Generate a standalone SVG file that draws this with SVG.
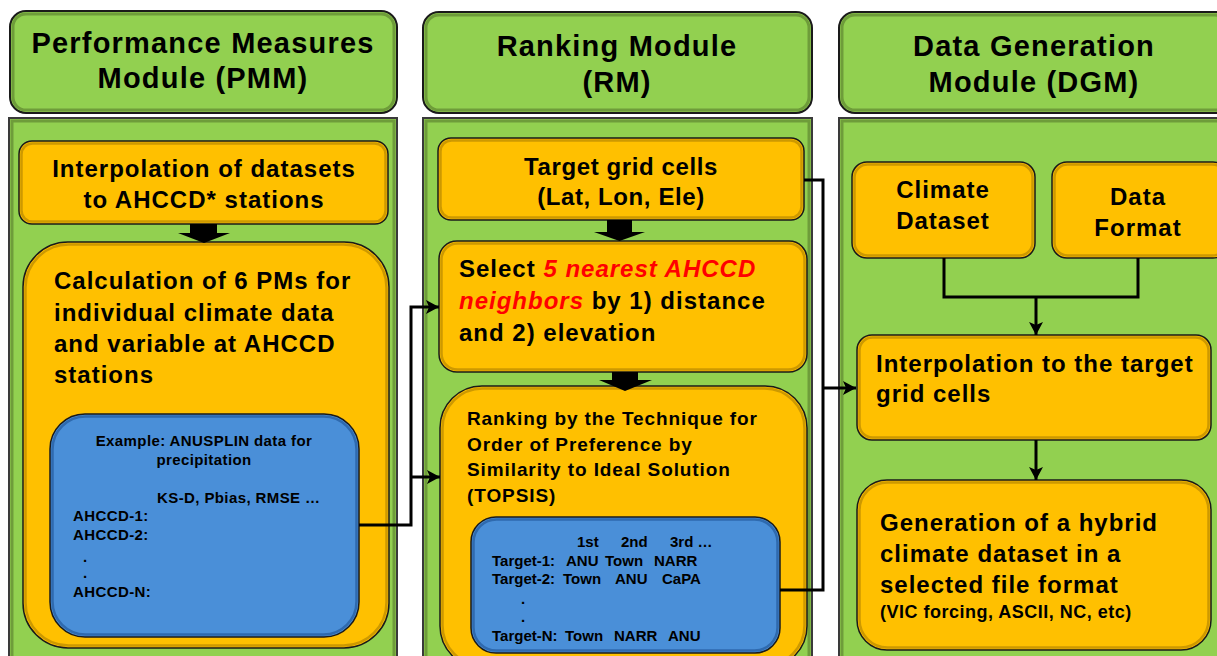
<svg xmlns="http://www.w3.org/2000/svg" width="1217" height="656" viewBox="0 0 1217 656">
<style>
.hdr{fill:#92D050;stroke:#1a1a1a;stroke-width:2}
.hin{fill:none;stroke:#6E9C3A;stroke-width:3}
.body{fill:#92D050;stroke:#3a3a3a;stroke-width:2}
.bin{fill:none;stroke:#6E9C3A;stroke-width:3}
.ob{fill:#FFC000;stroke:#1a1a1a;stroke-width:1.5}
.oin{fill:none;stroke:#C08F00;stroke-width:2.5;opacity:.8}
.bb{fill:#4A8FD8;stroke:#1a1a1a;stroke-width:1.5}
.bbin{fill:none;stroke:#2F6AAE;stroke-width:2.5}
.t{font-family:"Liberation Sans",Arial,sans-serif;font-weight:bold;fill:#000}
.h{font-size:29px;letter-spacing:1.2px}
.m{font-size:24px;letter-spacing:1px}
.s{font-size:19px;letter-spacing:0.9px}
.x{font-size:15px;letter-spacing:0.4px}
.c{text-anchor:middle}
.red{fill:#FF0000;font-style:italic}
.conn{fill:none;stroke:#000;stroke-width:3}
.blk{fill:#000}
</style>
<defs>
<marker id="ah" markerUnits="userSpaceOnUse" markerWidth="14" markerHeight="14" refX="13" refY="7" orient="auto">
<path d="M0,0 L13,7 L0,14 L3,7 Z" fill="#000"/>
</marker>
</defs>
<rect width="1217" height="656" fill="#fff"/>

<!-- Panels -->
<g id="pmm-header">
<rect class="hdr" x="10" y="11" width="387" height="102" rx="16"/>
<rect class="hin" x="13" y="14" width="381" height="96" rx="13"/>
<text class="t h c" x="203" y="53">Performance Measures</text>
<text class="t h c" x="203" y="88">Module (PMM)</text>
</g>
<g id="rm-header">
<rect class="hdr" x="423" y="12" width="389" height="101" rx="16"/>
<rect class="hin" x="426" y="15" width="383" height="95" rx="13"/>
<text class="t h c" x="617" y="56">Ranking Module</text>
<text class="t h c" x="617" y="92">(RM)</text>
</g>
<g id="dgm-header">
<rect class="hdr" x="839" y="12" width="392" height="101" rx="16"/>
<rect class="hin" x="842" y="15" width="386" height="95" rx="13"/>
<text class="t h c" x="1034" y="56">Data Generation</text>
<text class="t h c" x="1034" y="92">Module (DGM)</text>
</g>

<g id="pmm-body">
<rect class="body" x="9" y="118" width="388" height="550"/>
<rect class="bin" x="12" y="121" width="382" height="550"/>
</g>
<g id="rm-body">
<rect class="body" x="423" y="118" width="389" height="550"/>
<rect class="bin" x="426" y="121" width="383" height="550"/>
</g>
<g id="dgm-body">
<rect class="body" x="839" y="118" width="392" height="550"/>
<rect class="bin" x="842" y="121" width="386" height="550"/>
</g>

<!-- PMM nodes -->
<g id="pmm-interp">
<rect class="ob" x="19" y="141" width="369" height="83" rx="13"/>
<rect class="oin" x="21.5" y="143.5" width="364" height="78" rx="11"/>
<text class="t m c" x="204" y="177">Interpolation of datasets</text>
<text class="t m c" x="204" y="208">to AHCCD* stations</text>
</g>
<g id="pmm-calc">
<rect class="ob" x="23" y="242" width="366" height="406" rx="45"/>
<rect class="oin" x="25.5" y="244.5" width="361" height="401" rx="43"/>
<text class="t m" x="54" y="289">Calculation of 6 PMs for</text>
<text class="t m" x="54" y="321">individual climate data</text>
<text class="t m" x="54" y="352">and variable at AHCCD</text>
<text class="t m" x="54" y="383">stations</text>
</g>
<g id="pmm-example">
<rect class="bb" x="50" y="414" width="309" height="223" rx="35"/>
<rect class="bbin" x="52.5" y="416.5" width="304" height="218" rx="33"/>
<text class="t x c" x="204" y="446">Example: ANUSPLIN data for</text>
<text class="t x c" x="204" y="465">precipitation</text>
<text class="t x" x="157" y="503">KS-D, Pbias, RMSE …</text>
<text class="t x" x="73" y="521">AHCCD-1:</text>
<text class="t x" x="73" y="540">AHCCD-2:</text>
<text class="t x" x="83" y="562">.</text>
<text class="t x" x="83" y="578">.</text>
<text class="t x" x="73" y="597">AHCCD-N:</text>
</g>

<!-- RM nodes -->
<g id="rm-target">
<rect class="ob" x="438" y="138" width="366" height="82" rx="13"/>
<rect class="oin" x="440.5" y="140.5" width="361" height="77" rx="11"/>
<text class="t m c" x="621" y="175" style="letter-spacing:0.6px">Target grid cells</text>
<text class="t m c" x="621" y="205" style="letter-spacing:0.6px">(Lat, Lon, Ele)</text>
</g>
<g id="rm-select">
<rect class="ob" x="439" y="241" width="368" height="131" rx="18"/>
<rect class="oin" x="441.5" y="243.5" width="363" height="126" rx="16"/>
<text class="t m" x="459" y="277">Select <tspan class="red">5 nearest AHCCD</tspan></text>
<text class="t m" x="459" y="309"><tspan class="red">neighbors</tspan> by 1) distance</text>
<text class="t m" x="459" y="341">and 2) elevation</text>
</g>
<g id="rm-topsis">
<rect class="ob" x="440" y="386" width="367" height="282" rx="42"/>
<rect class="oin" x="442.5" y="388.5" width="362" height="277" rx="40"/>
<text class="t s" x="467" y="425">Ranking by the Technique for</text>
<text class="t s" x="467" y="450.5">Order of Preference by</text>
<text class="t s" x="467" y="476">Similarity to Ideal Solution</text>
<text class="t s" x="467" y="501.5">(TOPSIS)</text>
</g>
<g id="rm-example">
<rect class="bb" x="471" y="517" width="309" height="136" rx="25"/>
<rect class="bbin" x="473.5" y="519.5" width="304" height="131" rx="23"/>
<g class="t x" style="letter-spacing:0">
<text x="577" y="547">1st</text><text x="621" y="547">2nd</text><text x="670" y="547">3rd …</text>
<text x="492" y="566">Target-1:</text><text x="566" y="566">ANU</text><text x="605" y="566">Town</text><text x="654" y="566">NARR</text>
<text x="492" y="584">Target-2:</text><text x="563" y="584">Town</text><text x="615" y="584">ANU</text><text x="662" y="584">CaPA</text>
<text x="521" y="604">.</text>
<text x="521" y="622">.</text>
<text x="492" y="641">Target-N:</text><text x="565" y="641">Town</text><text x="614" y="641">NARR</text><text x="668" y="641">ANU</text>
</g>
</g>

<!-- DGM nodes -->
<g id="dgm-climate">
<rect class="ob" x="852" y="162" width="183" height="96" rx="15"/>
<rect class="oin" x="854.5" y="164.5" width="178" height="91" rx="13"/>
<text class="t m c" x="943" y="198">Climate</text>
<text class="t m c" x="943" y="229">Dataset</text>
</g>
<g id="dgm-format">
<rect class="ob" x="1052" y="162" width="176" height="96" rx="15"/>
<rect class="oin" x="1054.5" y="164.5" width="171" height="91" rx="13"/>
<text class="t m c" x="1138" y="205">Data</text>
<text class="t m c" x="1138" y="236">Format</text>
</g>
<g id="dgm-interp">
<rect class="ob" x="857" y="335" width="354" height="105" rx="15"/>
<rect class="oin" x="859.5" y="337.5" width="349" height="100" rx="13"/>
<text class="t m" x="876" y="372">Interpolation to the target</text>
<text class="t m" x="876" y="402">grid cells</text>
</g>
<g id="dgm-generation">
<rect class="ob" x="857" y="480" width="354" height="170" rx="30"/>
<rect class="oin" x="859.5" y="482.5" width="349" height="165" rx="28"/>
<text class="t m" x="880" y="531">Generation of a hybrid</text>
<text class="t m" x="880" y="562">climate dataset in a</text>
<text class="t m" x="880" y="593">selected file format</text>
<text class="t" x="880" y="618" style="font-size:18px;letter-spacing:0.5px">(VIC forcing, ASCII, NC, etc)</text>
</g>

<!-- Connectors -->
<g id="connectors">
<path class="blk" d="M190,224 H217 V233 H230 L204,243 L178,233 H190 Z"/>
<path class="blk" d="M607,220 H632 V232 H645 L619.5,241 L594,232 H607 Z"/>
<path class="blk" d="M612,372 H638 V380 H652 L625,391 L599,380 H612 Z"/>
<path class="conn" d="M359,525 H411 V307 H439" marker-end="url(#ah)"/>
<path class="conn" d="M411,477 H440" marker-end="url(#ah)"/>
<path class="conn" d="M804,180 H823 V590 H780"/>
<path class="conn" d="M823,388 H856" marker-end="url(#ah)"/>
<path class="conn" d="M944,258 V297 H1138 V258"/>
<path class="conn" d="M1036,297 V335" marker-end="url(#ah)"/>
<path class="conn" d="M1036,440 V480" marker-end="url(#ah)"/>
</g>
</svg>
